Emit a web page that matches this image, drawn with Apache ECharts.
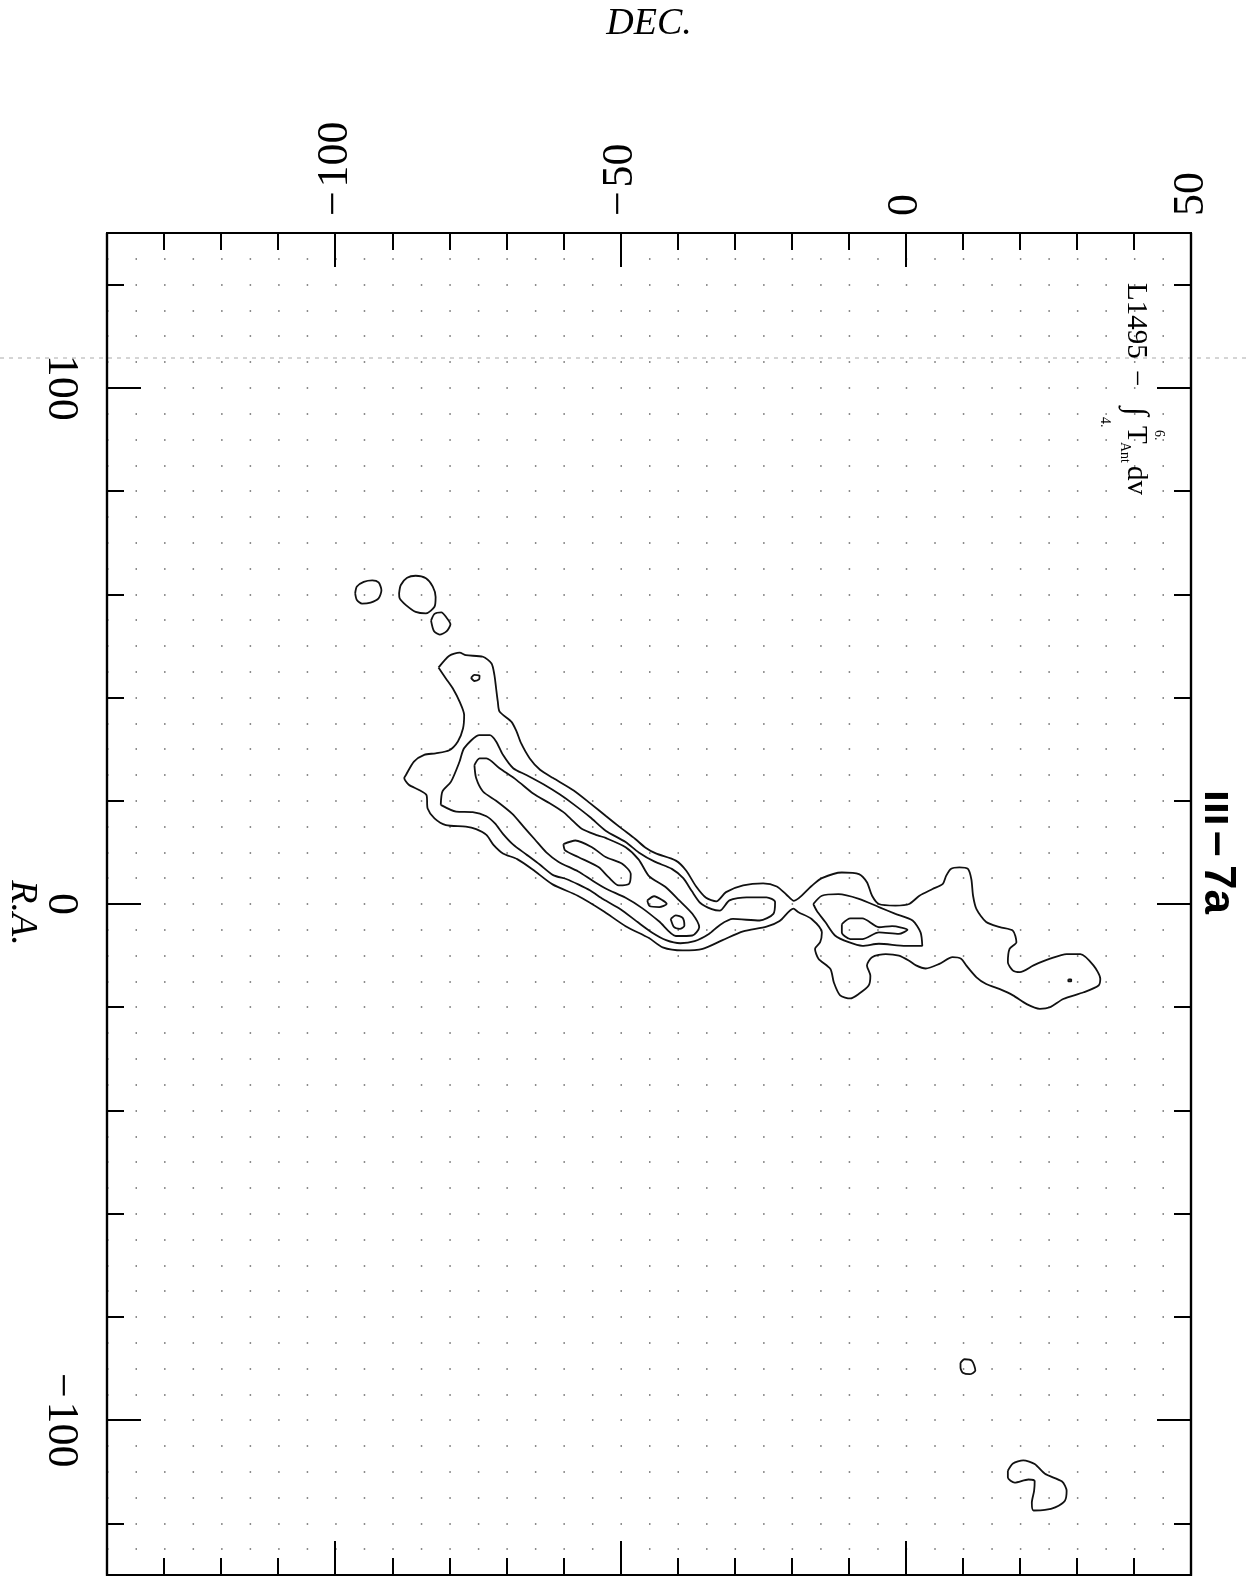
<!DOCTYPE html>
<html><head><meta charset="utf-8">
<script src="https://cdn.jsdelivr.net/npm/echarts@6/dist/echarts.min.js"></script>
<style>html,body{margin:0;padding:0;background:#fff;}#c{width:1247px;height:1576px;}</style>
</head><body><div id="c"></div>
<script>
// ---- axis ticks / labels ----
const decRange = [-140, 50];
const raRange = [-130, 130];
const decTickLabels = [-100, -50, 0, 50];
const decMajorTicks = [-100, -50, 0];
const decMinorTicks = [-130, -120, -110, -90, -80, -70, -60, -40, -30, -20, -10, 10, 20, 30, 40];
const raTickLabels = [-100, 0, 100];
const raMajorTicks = [-100, 0, 100];
const raMinorTicks = [-120, -80, -60, -40, -20, 20, 40, 60, 80, 120];

// ---- contours: [DEC, R.A.] ----
const outerContour = [[-81.9,45.8],[-80.0,48.1],[-78.2,48.7],[-77.1,48.2],[-74.1,47.9],[-72.6,46.6],[-72.1,44.4],[-71.8,41.8],[-71.5,39.2],[-71.2,37.3],[-69.1,35.3],[-68.2,33.4],[-67.4,31.1],[-65.9,28.2],[-64.1,26.0],[-61.8,24.4],[-58.2,22.0],[-55.3,19.5],[-52.5,17.0],[-50,14.8],[-47.4,12.6],[-45.6,10.9],[-43.8,9.8],[-40.3,8.4],[-38.5,6.5],[-36.8,3.5],[-35,1.2],[-33.2,0.5],[-31.5,2.3],[-28.5,3.6],[-25,4.0],[-22.6,3.4],[-20.9,1.8],[-19.6,0.6],
[-16.5,3.5],[-14.7,5.0],[-11.2,6.1],[-8.2,5.8],[-6.8,4.2],[-5.9,1.6],[-4.7,0],[-1.8,-0.3],[0.6,0],[2.4,1.6],[4.7,2.9],[6.5,3.9],[7.1,5.5],[7.9,6.8],[9.4,7.1],[10.9,6.8],[11.5,4.8],[11.8,1.6],[12.4,-1.0],[14.1,-3.5],[16.5,-4.5],[18.8,-5.2],[19.4,-7.4],[18.2,-8.7],[17.9,-11.3],[18.8,-12.9],[20.0,-13.2],[22.4,-11.9],[25.3,-10.6],[28.2,-9.7],[30.6,-9.7],[32.9,-11.9],[34.1,-14.5],[33.8,-15.8],[31.2,-17.1],[27.6,-18.4],[25.3,-20.0],[23.5,-20.3],[21.2,-19.4],[18.8,-17.7],[16.5,-16.5],[14.1,-15.5],[12.4,-14.2],[10.6,-11.9],[9.7,-10.6],[8.2,-10.3],[5.9,-11.6],[3.5,-12.5],[1.8,-11.9],[0.6,-11.0],[-1.2,-10.0],[-3.5,-9.7],[-5.9,-10.3],[-6.8,-11.9],[-6.2,-13.9],[-6.5,-15.8],[-8.2,-17.4],[-9.7,-18.3],[-11.5,-17.7],[-12.6,-15.2],[-13.2,-12.6],[-15.3,-10.6],[-15.9,-8.7],[-15.0,-7.4],[-14.7,-5.5],[-16.5,-2.9],[-18.8,-1.6],[-19.7,-0.9],
[-22.1,-3.3],[-24.4,-4.4],[-28.5,-5.3],[-32.1,-7.0],[-35.6,-8.7],[-39.1,-9.0],[-42.6,-8.4],[-45,-6.6],[-49.1,-4.3],[-53.1,-1.3],[-57.5,1.6],[-61.9,3.8],[-65.4,6.7],[-68.1,8.7],[-70.6,9.8],[-72.3,11.5],[-73.5,13.4],[-75.3,14.5],[-77.1,15.0],[-80.6,15.3],[-82.6,16.6],[-83.8,18.5],[-84.0,21.1],[-85.3,22.1],[-87.1,23.1],[-87.9,24.4],[-87.6,25.0],[-86.2,27.6],[-84.4,28.9],[-82.4,29.2],[-80.0,29.8],[-78.5,31.5],[-77.6,34.0],[-77.4,36.6],[-78.2,39.2],[-79.4,41.8],[-80.6,43.7],[-81.9,45.8]];

const secondContour = [[-81.5,19.2],[-81.2,21.8],[-79.7,23.7],[-78.2,27.6],[-77.4,30.2],[-74.7,32.7],[-72.9,32.7],[-71.8,31.5],[-70.6,28.9],[-68.8,26.3],[-66.5,25.0],[-63.5,23.2],[-60.6,21.2],[-58.2,19.3],[-55.3,16.8],[-52.6,14.2],[-49.1,12.0],[-46.8,10.0],[-44,8.2],[-41,6.8],[-39,5.0],[-37.5,2.5],[-36,0.2],[-34,-1.0],[-32.6,-1.3],[-30.9,0.7],[-27.9,1.3],[-24.4,1.3],[-22.9,0.4],[-23.2,-1.9],[-25.6,-3.2],[-30.3,-2.9],[-32.5,-4.0],[-34.5,-5.8],[-37,-7.2],[-39.5,-7.6],[-42,-7.0],[-44.5,-5.5],[-47,-3.5],[-50,-1.0],[-53,0.9],[-55.3,2.6],[-57.4,3.8],[-59.4,4.8],[-61.8,5.6],[-64.1,7.6],[-66.5,9.6],[-68.8,11.5],[-70.6,13.6],[-72,15.6],[-73.5,17.0],[-75.9,17.8],[-78.8,17.9],[-81.5,19.2]];

const thirdContour = [[-75.6,26.9],[-74.7,28.2],[-73.5,28.2],[-71.2,26.3],[-68.2,24.0],[-65.3,21.4],[-62.4,19.5],[-60,17.8],[-58.8,16.6],[-56.8,14.6],[-54,13.3],[-52.6,12.8],[-49.1,11.0],[-46.8,8.6],[-45,5.4],[-42.1,3.3],[-39.7,0.7],[-37.4,-1.9],[-36.2,-4.5],[-37.4,-6.1],[-40.3,-6.2],[-43.2,-3.4],[-46.2,-0.8],[-49.1,1.2],[-52.6,3.0],[-55,4.6],[-57.4,6.3],[-60.9,8.2],[-63,10.0],[-65,12.5],[-67,15.0],[-69,17.5],[-71.8,20.0],[-74.1,21.8],[-75.3,24.4],[-75.6,26.9]];

const innerLong = [[-60,11.6],[-57.9,12.3],[-55,11.0],[-52.6,9.1],[-49.7,7.8],[-48.2,5.8],[-48.5,3.9],[-50.3,3.6],[-52.1,5.2],[-53.8,7.1],[-57.4,9.1],[-59.7,10.4],[-60,11.6]];
const innerTinyA = [[-45.3,0.7],[-44.1,1.5],[-42.6,0.7],[-41.9,0],[-43.2,-0.6],[-44.9,-0.4],[-45.3,0.7]];
const innerTinyB = [[-41.2,-2.9],[-40.3,-2.2],[-39.1,-2.7],[-38.8,-4.2],[-39.6,-4.8],[-40.6,-4.5],[-41.2,-2.9]];
const headTiny = [[-76.2,43.8],[-75.6,44.4],[-74.7,44.2],[-74.8,43.5],[-75.6,43.2],[-76.2,43.8]];

const rightSecond = [[-16.2,0],[-14.7,1.6],[-11.8,1.9],[-8.2,1.0],[-4.7,-0.6],[-1.8,-1.9],[1.2,-3.2],[2.6,-5.5],[2.9,-8.1],[0,-8.1],[-4.7,-7.7],[-7.6,-8.1],[-10.0,-7.4],[-12.4,-6.1],[-14.1,-3.5],[-15.6,-1.3],[-16.2,0]];
const rightThird = [[-11.2,-3.9],[-9.7,-2.8],[-7.6,-2.8],[-4.7,-4.5],[-2.4,-4.3],[0.3,-5.0],[-1.2,-5.8],[-4.7,-5.5],[-7.6,-6.8],[-9.7,-6.8],[-11.2,-5.5],[-11.2,-3.9]];
const rightDot = [[28.5,-14.6],[29.0,-14.6],[29.0,-15.0],[28.5,-15.0],[28.5,-14.6]];

const blobA = [[-96.5,60.2],[-96.2,61.5],[-95,62.4],[-93.5,62.7],[-92.4,62.3],[-91.9,60.8],[-92.4,59.2],[-93.8,58.4],[-95.3,58.2],[-96.2,58.9],[-96.5,60.2]];
const blobB = [[-88.8,60.2],[-88.5,61.8],[-87.4,63.2],[-85.9,63.6],[-84.1,63.1],[-82.9,61.5],[-82.4,59.5],[-82.6,57.6],[-84.1,56.3],[-85.9,56.6],[-87.6,57.9],[-88.7,59.2],[-88.8,60.2]];
const blobC = [[-83.2,54.9],[-82.6,56.2],[-81.4,56.5],[-80.5,55.5],[-79.8,54.2],[-80.5,52.8],[-81.7,52.2],[-82.7,52.9],[-83.2,54.9]];
const southSmall = [[9.6,-88.9],[10.3,-88.2],[11.6,-88.5],[12.2,-90.4],[11.2,-91.1],[10.0,-90.8],[9.6,-89.8],[9.6,-88.9]];
const southKidney = [[17.9,-109.8],[18.8,-108.4],[20.6,-107.8],[22.6,-108.5],[24.4,-110.4],[27.4,-111.9],[28.2,-113.7],[27.9,-115.6],[26.2,-116.9],[24.4,-117.4],[22.4,-117.5],[22.1,-116.0],[22.5,-113.7],[22.6,-111.8],[21.5,-111.5],[19.1,-112.1],[17.9,-111.1],[17.9,-109.8]];

const contours = [outerContour, secondContour, thirdContour, innerLong, innerTinyA, innerTinyB, headTiny,
  rightSecond, rightThird, rightDot, blobA, blobB, blobC, southSmall, southKidney];

// ---- build chart ----
const serif = "'Liberation Serif','DejaVu Serif',serif";
const fmt = v => (v < 0 ? '\u2212\u200A' + Math.abs(v) : String(v));
const frameLine = {show: true, onZero: false, lineStyle: {color: '#000', width: 2.2}};
const tickStyle = {color: '#000', width: 2};
const labelStyle = {fontFamily: serif, fontSize: 44, color: '#000', formatter: fmt, rotate: -90};

function xAxisDef(pos, ticks, len, labels, extra) {
  return Object.assign({
    type: 'value', position: pos, min: decRange[0], max: decRange[1], gridIndex: 0,
    axisLine: frameLine,
    axisTick: {show: true, inside: true, length: len, customValues: ticks, lineStyle: tickStyle},
    axisLabel: labels ? Object.assign({show: true, customValues: labels, margin: 17}, labelStyle) : {show: false},
    splitLine: {show: false}
  }, extra || {});
}
function yAxisDef(pos, ticks, len, labels, extra) {
  return Object.assign({
    type: 'value', position: pos, min: raRange[0], max: raRange[1], gridIndex: 0,
    axisLine: frameLine,
    axisTick: {show: true, inside: true, length: len, customValues: ticks, lineStyle: tickStyle},
    axisLabel: labels ? Object.assign({show: true, customValues: labels, margin: 24}, labelStyle) : {show: false},
    splitLine: {show: false}
  }, extra || {});
}

const nameStyle = {fontFamily: serif, fontStyle: 'italic', fontSize: 38, color: '#000'};
const pxPer5Dec = (1247 - 107 - 56) / (decRange[1] - decRange[0]) * 5;
const txt = (x, y, text, size, extra) => ({type: 'text', x: x, y: y,
  style: Object.assign({text: text, fontFamily: serif, fontSize: size, fill: '#000', align: 'left', verticalAlign: 'middle'}, extra || {})});

const option = {
  backgroundColor: '#fff',
  animation: false,
  grid: {left: 107, right: 56, top: 233, bottom: 1, containLabel: false},
  xAxis: [
    xAxisDef('top', decMinorTicks, 17, decTickLabels, {name: 'DEC.', nameLocation: 'middle', nameGap: 190, nameTextStyle: nameStyle}),
    xAxisDef('top', decMajorTicks, 34, null),
    xAxisDef('bottom', decMinorTicks, 17, null),
    xAxisDef('bottom', decMajorTicks, 34, null)
  ],
  yAxis: [
    yAxisDef('left', raMinorTicks, 17, raTickLabels),
    yAxisDef('left', raMajorTicks, 34, null),
    yAxisDef('right', raMinorTicks, 17, null),
    yAxisDef('right', raMajorTicks, 34, null),
    {type: 'value', position: 'left', min: raRange[0], max: raRange[1], interval: 5, gridIndex: 0,
     axisLine: {show: false, onZero: false}, axisTick: {show: false}, axisLabel: {show: false},
     splitLine: {show: true, lineStyle: {color: '#666', width: 1.5, type: [1.5, pxPer5Dec - 1.5]}}}
  ],
  series: contours.map((c, i) => ({
    type: 'line', name: 'c' + i, data: c, xAxisIndex: 0, yAxisIndex: 0,
    showSymbol: false, symbol: 'none', smooth: 0.25, silent: true, clip: false,
    lineStyle: {color: '#111', width: 1.8}
  })),
  graphic: [
    {type: 'line', silent: true, z: -10, shape: {x1: 0, y1: 358, x2: 1247, y2: 358},
     style: {stroke: '#aaa', lineWidth: 1, lineDash: [4, 5]}},
    {type: 'text', x: 22, y: 913, rotation: -Math.PI / 2,
     style: {text: 'R.A.', fontFamily: serif, fontStyle: 'italic', fontSize: 38, fill: '#000', align: 'center', verticalAlign: 'middle'}},
    {type: 'group', x: 1126, y: 283, rotation: -Math.PI / 2, children: [
      txt(0, -9.8, 'L1495', 29),
      txt(87, -9.8, '\u2212', 29),
      txt(124, -9.5, '\u222B', 32),
      txt(147, -33, '6.', 14),
      txt(134, 21, '4.', 14),
      txt(143, -9.8, 'T', 29),
      txt(159, 1, 'Ant', 14),
      txt(183, -9.8, 'dv', 29)
    ]},
    {type: 'group', x: 1202, y: 790, rotation: -Math.PI / 2, children: [
      txt(0, -11.2, 'III', 32, {fontFamily: "'DejaVu Sans',sans-serif", fontWeight: 'bold'}),
      txt(41, -15.4, '\u2013', 46, {fontFamily: "'Liberation Sans',Arial,sans-serif", fontWeight: 'bold'}),
      txt(75, -15.4, '7a', 44, {fontFamily: "'Liberation Sans',Arial,sans-serif", fontWeight: 'bold'})
    ]}
  ]
};

const chart = echarts.init(document.getElementById('c'), null, {renderer: 'canvas'});
chart.setOption(option);
</script>
</body></html>
